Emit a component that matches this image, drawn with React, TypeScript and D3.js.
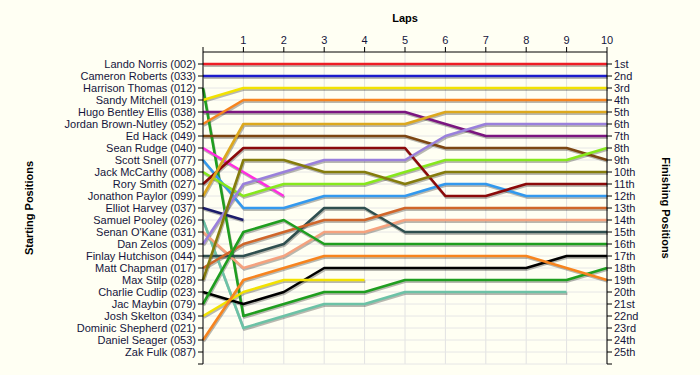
import * as d3 from "d3";

// grid of starting order
const drivers = [
  "Lando Norris (002)", "Cameron Roberts (033)", "Harrison Thomas (012)", "Sandy Mitchell (019)",
  "Hugo Bentley Ellis (038)", "Jordan Brown-Nutley (052)", "Ed Hack (049)", "Sean Rudge (040)",
  "Scott Snell (077)", "Jack McCarthy (008)", "Rory Smith (027)", "Jonathon Paylor (099)",
  "Elliot Harvey (037)", "Samuel Pooley (026)", "Senan O'Kane (031)", "Dan Zelos (009)",
  "Finlay Hutchison (044)", "Matt Chapman (017)", "Max Stilp (028)", "Charlie Cudlip (023)",
  "Jac Maybin (079)", "Josh Skelton (034)", "Dominic Shepherd (021)", "Daniel Seager (053)",
  "Zak Fulk (087)",
];

const laps = [1, 2, 3, 4, 5, 6, 7, 8, 9, 10];

// position at lap 0..N (shorter arrays = retired / lapped)
const norris = [1, 1, 1, 1, 1, 1, 1, 1, 1, 1, 1];
const roberts = [2, 2, 2, 2, 2, 2, 2, 2, 2, 2, 2];
const thomas = [3, 22, 21, 20, 20, 19, 19, 19, 19, 19, 18];
const mitchell = [4, 3, 3, 3, 3, 3, 3, 3, 3, 3, 3];
const ellis = [5, 5, 5, 5, 5, 5, 6, 7, 7, 7, 7];
const brownNutley = [6, 4, 4, 4, 4, 4, 4, 4, 4, 4, 4];
const hack = [7, 7, 7, 7, 7, 7, 8, 8, 8, 8, 9];
const rudge = [8, 10, 12];
const snell = [9, 13, 13, 12, 12, 12, 11, 11, 12, 12, 12];
const mccarthy = [10, 12, 11, 11, 11, 10, 9, 9, 9, 9, 8];
const smith = [11, 8, 8, 8, 8, 8, 12, 12, 11, 11, 11];
const paylor = [12, 6, 6, 6, 6, 6, 5, 5, 5, 5, 5];
const harvey = [13, 14];
const pooley = [14, 23, 22, 21, 21, 20, 20, 20, 20, 20];
const okane = [15, 18, 17, 15, 15, 14, 14, 14, 14, 14, 14];
const zelos = [16, 11, 10, 9, 9, 9, 7, 6, 6, 6, 6];
const hutchison = [17, 17, 16, 13, 13, 15, 15, 15, 15, 15, 15];
const chapman = [18, 16, 15, 14, 14, 13, 13, 13, 13, 13, 13];
const stilp = [19, 9, 9, 10, 10, 11, 10, 10, 10, 10, 10];
const cudlip = [20, 21, 20, 18, 18, 18, 18, 18, 18, 17, 17];
const maybin = [21, 15, 14, 16, 16, 16, 16, 16, 16, 16, 16];
const skelton = [22, 20, 19, 19, 19];
const shepherd: number[] = [];
const seager = [24, 19, 18, 17, 17, 17, 17, 17, 17, 18, 19];
const fulk: number[] = [];

const colors = [
  "#ee1c24", "#1c1ccc", "#1f9e1f", "#f2e200", "#7b1680", "#f7841e", "#7c4612", "#ff2ee0",
  "#3399ee", "#86e81c", "#8b0a0a", "#dca81e", "#1c1c6a", "#6cc2a6", "#f5a27e", "#9a80dc",
  "#2f4f4f", "#d0662a", "#857c0c", "#000000", "#1f9e1f", "#f2e200", "#888888", "#f7841e",
  "#888888",
];

const ordinal = (n: number) => {
  const s = n % 100 >= 11 && n % 100 <= 13 ? "th" : ["th", "st", "nd", "rd"][n % 10] || "th";
  return `${n}${s}`;
};

export default function App() {
  const W = 700, H = 375;
  const series = [
    norris, roberts, thomas, mitchell, ellis, brownNutley, hack, rudge, snell, mccarthy,
    smith, paylor, harvey, pooley, okane, zelos, hutchison, chapman, stilp, cudlip,
    maybin, skelton, shepherd, seager, fulk,
  ];
  const rows = drivers.length + 1;

  const x = d3.scaleLinear().domain([0, 10]).range([203, 607]);
  const y = d3.scaleLinear().domain([0, rows]).range([52, 364]);
  const line = d3.line<number>().x((_, i) => x(i)).y((d) => y(d));

  const textCol = "#15153c";
  const font = "'Liberation Sans', Arial, sans-serif";

  return (
    <svg width={W} height={H} style={{ position: "absolute", left: 0, top: 0 }} fontFamily={font}>
      <rect width={W} height={H} fill="#fffff3" />
      {/* grid */}
      {d3.range(0, 11).map((l) => (
        <line key={"gx" + l} x1={x(l)} x2={x(l)} y1={y(0)} y2={y(rows)} stroke="#e2e2e2" />
      ))}
      {d3.range(1, rows + 1).map((r) => (
        <line key={"gy" + r} x1={x(0)} x2={x(10)} y1={y(r)} y2={y(r)} stroke="#e6e6e6" />
      ))}

      {/* shadows */}
      <g transform="translate(0.8,1.6)">
        {series.map((s, i) =>
          s.length > 1 ? (
            <path key={"s" + i} d={line(s) || ""} fill="none" stroke="#000" strokeOpacity={0.28}
              strokeWidth={2.6} strokeLinejoin="round" />
          ) : null
        )}
      </g>
      {series.map((s, i) =>
        s.length > 1 ? (
          <path key={"p" + i} d={line(s) || ""} fill="none" stroke={colors[i]} strokeWidth={2.6}
            strokeLinejoin="round" />
        ) : null
      )}

      {/* axes */}
      <line x1={x(0)} x2={x(10)} y1={y(0)} y2={y(0)} stroke="#000" />
      <line x1={x(0)} x2={x(0)} y1={y(0)} y2={y(rows)} stroke="#000" />
      <line x1={x(10)} x2={x(10)} y1={y(0)} y2={y(rows)} stroke="#000" />
      {d3.range(0, 11).map((l) => (
        <line key={"tx" + l} x1={x(l)} x2={x(l)} y1={y(0) - 5} y2={y(0)} stroke="#000" />
      ))}
      {laps.map((l) => (
        <text key={"lx" + l} x={x(l)} y={y(0) - 8} fontSize={11} textAnchor="middle" fill={textCol}>
          {l}
        </text>
      ))}
      {d3.range(1, rows + 1).map((r) => (
        <g key={"t" + r}>
          <line x1={x(0) - 5} x2={x(0)} y1={y(r)} y2={y(r)} stroke="#000" />
          <line x1={x(10)} x2={x(10) + 5} y1={y(r)} y2={y(r)} stroke="#000" />
        </g>
      ))}
      {drivers.map((d, i) => (
        <text key={"dl" + i} x={x(0) - 7} y={y(i + 1)} dy="0.35em" fontSize={11} textAnchor="end" fill={textCol}>
          {d}
        </text>
      ))}
      {drivers.map((_, i) => (
        <text key={"fl" + i} x={x(10) + 7} y={y(i + 1)} dy="0.35em" fontSize={11} fill={textCol}>
          {ordinal(i + 1)}
        </text>
      ))}

      {/* titles */}
      <text x={x(5)} y={22} fontSize={11} fontWeight="bold" textAnchor="middle" fill="#000">Laps</text>
      <text transform={`translate(33,${y(rows / 2)}) rotate(-90)`} fontSize={11} fontWeight="bold"
        textAnchor="middle" fill="#000">Starting Positions</text>
      <text transform={`translate(662,${y(rows / 2)}) rotate(90)`} fontSize={11} fontWeight="bold"
        textAnchor="middle" fill="#000">Finishing Positions</text>
    </svg>
  );
}
